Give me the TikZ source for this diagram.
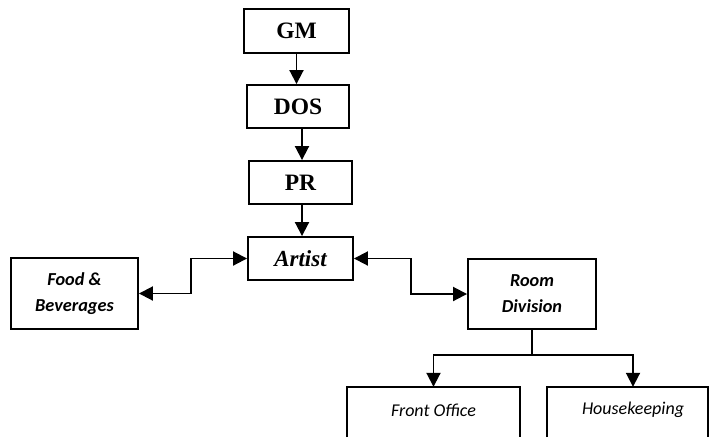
\documentclass[tikz,border=0pt]{standalone}
\usepackage{fontspec}
\setmainfont{Liberation Serif}
\newfontfamily\calfont{Carlito}
\usetikzlibrary{arrows.meta,calc}
\begin{document}
\begin{tikzpicture}[x=1pt,y=-1pt,
  lw/.style={line width=1.9pt},
  box/.style={draw,lw,inner sep=0pt,align=center},
  openbox/.style={inner sep=0pt,align=center,minimum height=50pt},
  conn/.style={lw,-{Triangle[length=14pt,width=14pt]}},
  both/.style={lw,{Triangle[length=14pt,width=14pt]}-{Triangle[length=14pt,width=14pt]}},
  serifb/.style={font=\fontsize{23.5}{26}\selectfont\bfseries},
  serifbi/.style={font=\fontsize{23}{26}\selectfont\bfseries\itshape},
  sansbi/.style={font=\fontsize{18.3}{26}\selectfont\calfont\bfseries\itshape},
  sansi/.style={font=\fontsize{18}{22}\selectfont\calfont\itshape},
  miter/.style={line join=miter}
]
\useasboundingbox (0,0) rectangle (709,437);
\node[box,serifb,minimum width=105pt,minimum height=44pt] (gm) at (296.5,31) {GM};
\node[box,serifb,minimum width=102pt,minimum height=43pt] (dos) at (298,106.5) {DOS};
\node[box,serifb,minimum width=103pt,minimum height=43pt] (pr) at (300.5,182.5) {PR};
\node[box,serifbi,minimum width=105pt,minimum height=43pt] (artist) at (300.5,258.5) {Artist};
\node[box,sansbi,minimum width=127pt,minimum height=71pt] (food) at (74.5,293.5) {Food \&\\Beverages};
\node[box,sansbi,minimum width=128pt,minimum height=70pt] (rd) at (532,294) {Room\\Division};
\node[openbox,minimum width=173pt] (fo) at (433.5,412) {};
\node[sansi] (fot) at (433.5,410) {Front Office};
\node[openbox,minimum width=161pt] (hk) at (627.5,412) {};
\node[sansi] (hkt) at (633,410) {Housekeeping};
\draw[lw,miter] (fo.south west) -- (fo.north west) -- (fo.north east) -- (fo.south east);
\draw[lw,miter] (hk.south west) -- (hk.north west) -- (hk.north east) -- (hk.south east);
\draw[conn] (gm.south) -- (gm.south |- dos.north);
\draw[conn] ([xshift=4pt]dos.south) -- ([xshift=4pt]dos.south |- pr.north);
\draw[conn] ([xshift=1.5pt]pr.south) -- ([xshift=1.5pt]pr.south |- artist.north);
\coordinate (fl) at (191,293.5);
\coordinate (rl) at (411,258.5);
\draw[both,miter] (food.east) -- (fl) |- (artist.west);
\draw[both,miter] (artist.east) -- (rl) |- (rd.west);
\coordinate (j) at ($(rd.south)+(0,25)$);
\draw[lw] (rd.south) -- (j);
\draw[conn,miter] (j) -| (fo.north);
\draw[conn,miter] (j) -| (hkt.north |- hk.north);
\end{tikzpicture}
\end{document}
